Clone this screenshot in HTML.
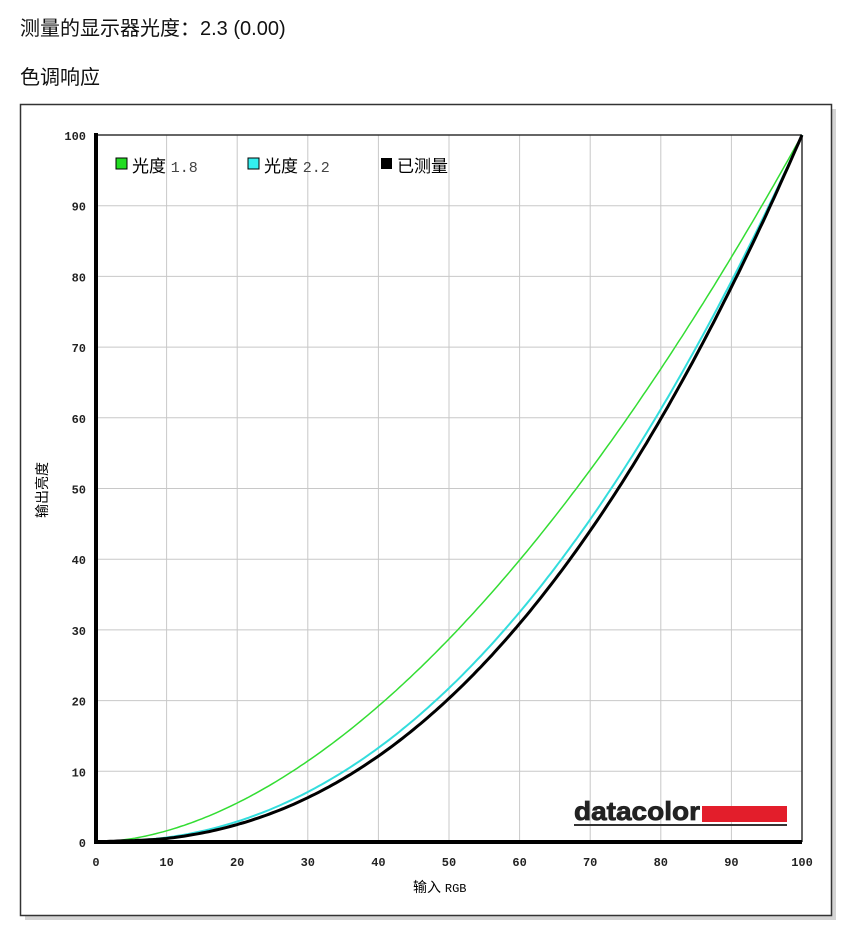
<!DOCTYPE html>
<html><head><meta charset="utf-8"><style>
body{margin:0;background:#fff;width:853px;height:937px;overflow:hidden;font-family:"Liberation Sans","Noto Sans CJK SC",sans-serif;}
.t{position:absolute;left:20px;font-size:20px;color:#111;}
</style></head><body>
<div class="t" style="top:12px">测量的显示器光度：2.3 (0.00)</div>
<div class="t" style="top:61px">色调响应</div>
<svg id="s" width="853" height="937" style="position:absolute;left:0;top:0" xmlns="http://www.w3.org/2000/svg">
<rect x="25" y="109" width="811" height="811" fill="#aaa" opacity="0.5"/>
<rect x="20.5" y="104.5" width="811" height="811" fill="#fff" stroke="#333" stroke-width="1.5"/>
<g id="grid" stroke="#c8c8c8" stroke-width="1"></g>
<g id="lbl" font-family="'Liberation Mono',monospace" font-size="12" fill="#222" font-weight="bold"></g>
<line x1="96" y1="135" x2="802" y2="135" stroke="#333" stroke-width="1.5"/>
<line x1="802" y1="135" x2="802" y2="842" stroke="#333" stroke-width="1.5"/>
<line x1="96" y1="133" x2="96" y2="844" stroke="#000" stroke-width="4"/>
<line x1="94" y1="842" x2="802" y2="842" stroke="#000" stroke-width="4"/>
<path id="g18" fill="none" stroke="#33dd33" stroke-width="1.5"/>
<path id="g22" fill="none" stroke="#33dddd" stroke-width="2"/>
<path id="g23" fill="none" stroke="#000" stroke-width="3"/>
<rect x="116" y="158" width="11" height="11" fill="#22dd22" stroke="#000"/>
<text x="132" y="172" font-size="17" font-family="'Liberation Sans','Noto Sans CJK SC',sans-serif">光度 <tspan font-family="'Liberation Mono',monospace" font-size="15" fill="#444">1.8</tspan></text>
<rect x="248" y="158" width="11" height="11" fill="#33eeee" stroke="#000"/>
<text x="264" y="172" font-size="17" font-family="'Liberation Sans','Noto Sans CJK SC',sans-serif">光度 <tspan font-family="'Liberation Mono',monospace" font-size="15" fill="#444">2.2</tspan></text>
<rect x="381" y="158" width="11" height="11" fill="#000"/>
<text x="397" y="172" font-size="17" font-family="'Liberation Sans','Noto Sans CJK SC',sans-serif">已测量</text>
<text x="574" y="820" font-size="26" font-weight="bold" font-family="'Liberation Sans',sans-serif" fill="#222" stroke="#222" stroke-width="0.8" textLength="126" lengthAdjust="spacingAndGlyphs">datacolor</text>
<rect x="702" y="806" width="85" height="16" fill="#e31e2b"/>
<rect x="574" y="824" width="213" height="2" fill="#333"/>
<text x="413" y="892" font-size="14" font-family="'Liberation Sans','Noto Sans CJK SC',sans-serif">输入 <tspan font-family="'Liberation Mono',monospace" font-size="12">RGB</tspan></text>
<text transform="translate(47,490) rotate(-90)" text-anchor="middle" font-size="14" font-family="'Liberation Sans','Noto Sans CJK SC',sans-serif">输出亮度</text>
</svg>
<script>
var X=v=>96+v*7.06, Y=v=>842-v*7.07;
var g=document.getElementById('grid'),l=document.getElementById('lbl'),ns='http://www.w3.org/2000/svg';
for(var i=0;i<=100;i+=10){
 if(i>0&&i<100){var a=document.createElementNS(ns,'line');a.setAttribute('x1',X(i));a.setAttribute('x2',X(i));a.setAttribute('y1',135);a.setAttribute('y2',842);g.appendChild(a);
 var b=document.createElementNS(ns,'line');b.setAttribute('y1',Y(i));b.setAttribute('y2',Y(i));b.setAttribute('x1',96);b.setAttribute('x2',802);g.appendChild(b);}
 var t=document.createElementNS(ns,'text');t.setAttribute('x',X(i));t.setAttribute('y',866);t.setAttribute('text-anchor','middle');t.textContent=i;l.appendChild(t);
 var u=document.createElementNS(ns,'text');u.setAttribute('x',86);u.setAttribute('y',Y(i)+5);u.setAttribute('text-anchor','end');u.textContent=i;l.appendChild(u);
}
function P(gm,id){var d='';for(var i=0;i<=200;i++){var x=i/200,y=Math.pow(x,gm);var lin=x*0.06;if(x<0.1)y=Math.max(y,lin*(1-x/0.1)+y*(x/0.1));d+=(i?'L':'M')+X(x*100).toFixed(1)+' '+Y(y*100).toFixed(1);}document.getElementById(id).setAttribute('d',d);}
P(1.8,'g18');P(2.2,'g22');P(2.3,'g23');
</script>
</body></html>
